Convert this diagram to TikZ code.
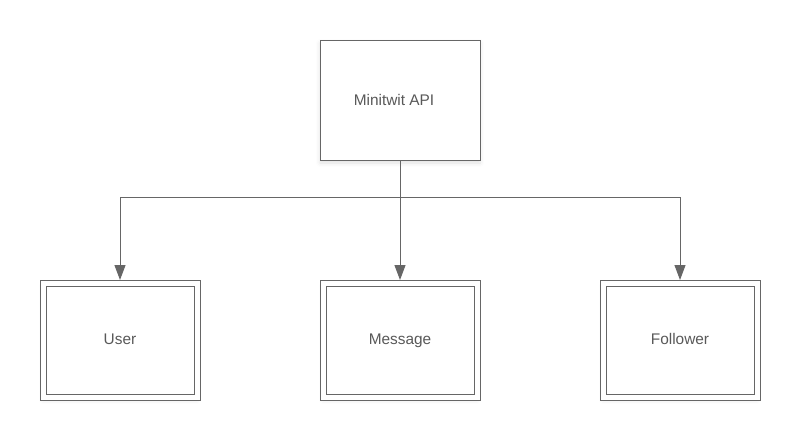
\documentclass[tikz,border=0pt]{standalone}
\usepackage{fontspec}
\setmainfont{Liberation Sans}
\usetikzlibrary{arrows.meta,shadows.blur}
\definecolor{ln}{HTML}{666666}
\definecolor{tx}{HTML}{595959}
\tikzset{
  box/.style={draw=ln, line width=1pt, fill=white, minimum width=160pt, minimum height=120pt, inner sep=0pt, outer sep=0pt,
    blur shadow={shadow xshift=0pt, shadow yshift=-3pt, shadow blur radius=4pt, shadow opacity=12}},
  entity/.style={draw=ln, line width=1pt, double=white, double distance=5pt, fill=white,
    minimum width=154pt, minimum height=114pt, inner sep=0pt, outer sep=3pt,
    blur shadow={shadow xshift=0pt, shadow yshift=-3pt, shadow blur radius=4pt, shadow opacity=12},
    font=\fontsize{15.4}{18}\selectfont, text=tx, text height=11pt, text depth=3pt},
  lbl/.style={font=\fontsize{15.4}{18}\selectfont, text=tx, inner sep=0pt, text height=11pt, text depth=3pt},
  conn/.style={draw=ln, line width=1pt},
  arr/.style={conn, -{Triangle[length=15pt,width=11pt]}}
}
\begin{document}
\begin{tikzpicture}[x=1pt,y=-1pt]
\useasboundingbox (0,0) rectangle (800,440);
\node[box] (api) at (400,100) {};
\node[lbl] (apitext) at (394,101) {Minitwit API};
\node[entity] (user) at (120,340) {User};
\node[entity] (msg) at (400,340) {Message};
\node[entity] (fol) at (680,340) {Follower};
\coordinate (j) at (400,197.5);
\draw[conn] (api.south) -- (j);
\draw[arr] (j) -| (user.north);
\draw[arr] (j) -- (msg.north);
\draw[arr] (j) -| (fol.north);
\end{tikzpicture}
\end{document}
